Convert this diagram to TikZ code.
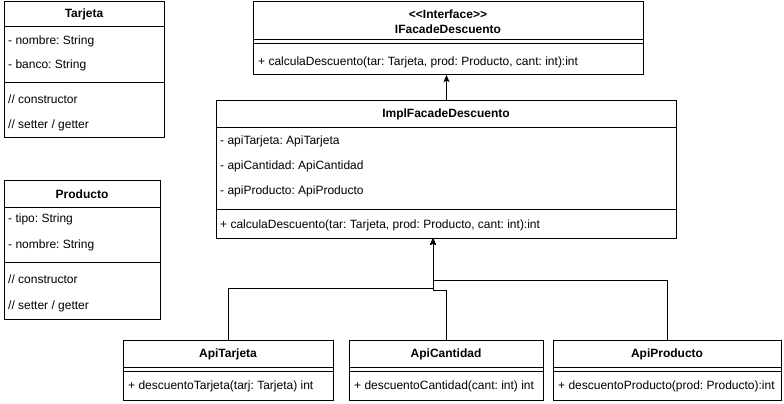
\documentclass[tikz,border=0pt]{standalone}
\usepackage{fontspec}
\setmainfont{Liberation Sans}
\usetikzlibrary{arrows.meta}
\frenchspacing
\begin{document}
\begin{tikzpicture}[x=1pt,y=-1pt,
  umlbox/.style={draw, line width=1pt, anchor=north west, inner sep=0pt, fill=white},
  sepline/.style={line width=1pt},
  ttl/.style={font=\fontsize{12}{14}\selectfont\bfseries, inner sep=0pt},
  attr/.style={font=\fontsize{12}{14}\selectfont, anchor=west, inner sep=0pt},
  conn/.style={line width=1pt, -{Stealth[length=7pt,width=6pt,inset=1.5pt]}}
]
\useasboundingbox (0,0) rectangle (784,404);

% Tarjeta
\node[umlbox, minimum width=160pt, minimum height=136pt] (tarjeta) at (4,1) {};
\node[ttl] (tarjetaT) at (84,14) {Tarjeta};
\draw[sepline] (tarjeta.west |- 0,27) -- (tarjeta.east |- 0,27);
\node[attr] (ta1) at (8,41) {- nombre: String};
\node[attr] (ta2) at (8,65) {- banco: String};
\draw[sepline] (tarjeta.west |- 0,82) -- (tarjeta.east |- 0,82);
\node[attr] (tm1) at (8,99) {// constructor};
\node[attr] (tm2) at (8,125) {// setter / getter};

% Producto
\node[umlbox, minimum width=156pt, minimum height=139pt] (producto) at (4,180) {};
\node[ttl] (productoT) at (82,194) {Producto};
\draw[sepline] (producto.west |- 0,207) -- (producto.east |- 0,207);
\node[attr] (pa1) at (8,219) {- tipo: String};
\node[attr] (pa2) at (8,245) {- nombre: String};
\draw[sepline] (producto.west |- 0,262) -- (producto.east |- 0,262);
\node[attr] (pm1) at (8,279) {// constructor};
\node[attr] (pm2) at (8,306) {// setter / getter};

% Interface
\node[umlbox, minimum width=390pt, minimum height=73pt] (iface) at (253,1) {};
\node[ttl] (ifaceS) at (448,14) {<\kern0pt<Interface>\kern0pt>};
\node[ttl] (ifaceT) at (448,29) {IFacadeDescuento};
\draw[sepline] (iface.west |- 0,40) -- (iface.east |- 0,40);
\draw[sepline] (iface.west |- 0,44) -- (iface.east |- 0,44);
\node[attr] (im1) at (258,62) {+ calculaDescuento(tar: Tarjeta, prod: Producto, cant: int):int};

% Impl
\node[umlbox, minimum width=460pt, minimum height=138pt] (impl) at (216,100) {};
\node[ttl] (implT) at (446,114) {ImplFacadeDescuento};
\draw[sepline] (impl.west |- 0,127) -- (impl.east |- 0,127);
\node[attr] (ia1) at (220,141) {- apiTarjeta: ApiTarjeta};
\node[attr] (ia2) at (220,166) {- apiCantidad: ApiCantidad};
\node[attr] (ia3) at (220,191) {- apiProducto: ApiProducto};
\draw[sepline] (impl.west |- 0,209) -- (impl.east |- 0,209);
\node[attr] (imm1) at (220,225) {+ calculaDescuento(tar: Tarjeta, prod: Producto, cant: int):int};

% Api boxes
\node[umlbox, minimum width=210pt, minimum height=60pt] (apitarjeta) at (123,340) {};
\node[ttl] (apitarjetaT) at (228,354) {ApiTarjeta};
\draw[sepline] (apitarjeta.west |- 0,367) -- (apitarjeta.east |- 0,367);
\draw[sepline] (apitarjeta.west |- 0,371) -- (apitarjeta.east |- 0,371);
\node[attr] (atm) at (128,386) {+ descuentoTarjeta(tarj: Tarjeta) int};

\node[umlbox, minimum width=194pt, minimum height=60pt] (apicantidad) at (349,340) {};
\node[ttl] (apicantidadT) at (446,354) {ApiCantidad};
\draw[sepline] (apicantidad.west |- 0,367) -- (apicantidad.east |- 0,367);
\draw[sepline] (apicantidad.west |- 0,371) -- (apicantidad.east |- 0,371);
\node[attr] (acm) at (354,386) {+ descuentoCantidad(cant: int) int};

\node[umlbox, minimum width=228pt, minimum height=60pt] (apiproducto) at (553,340) {};
\node[ttl] (apiproductoT) at (667,354) {ApiProducto};
\draw[sepline] (apiproducto.west |- 0,367) -- (apiproducto.east |- 0,367);
\draw[sepline] (apiproducto.west |- 0,371) -- (apiproducto.east |- 0,371);
\node[attr] (apm) at (558,386) {+ descuentoProducto(prod: Producto):int};

% Connectors
\draw[conn] (impl.north) -- (impl.north |- iface.south);
\coordinate (implin) at (433,238);
\draw[conn] (apitarjeta.north) -- ++(0,-52) -| (implin);
\draw[conn] (apicantidad.north) -- ++(0,-50) -| (implin);
\draw[conn] (apiproducto.north) -- ++(0,-60) -| (implin);
\end{tikzpicture}
\end{document}
